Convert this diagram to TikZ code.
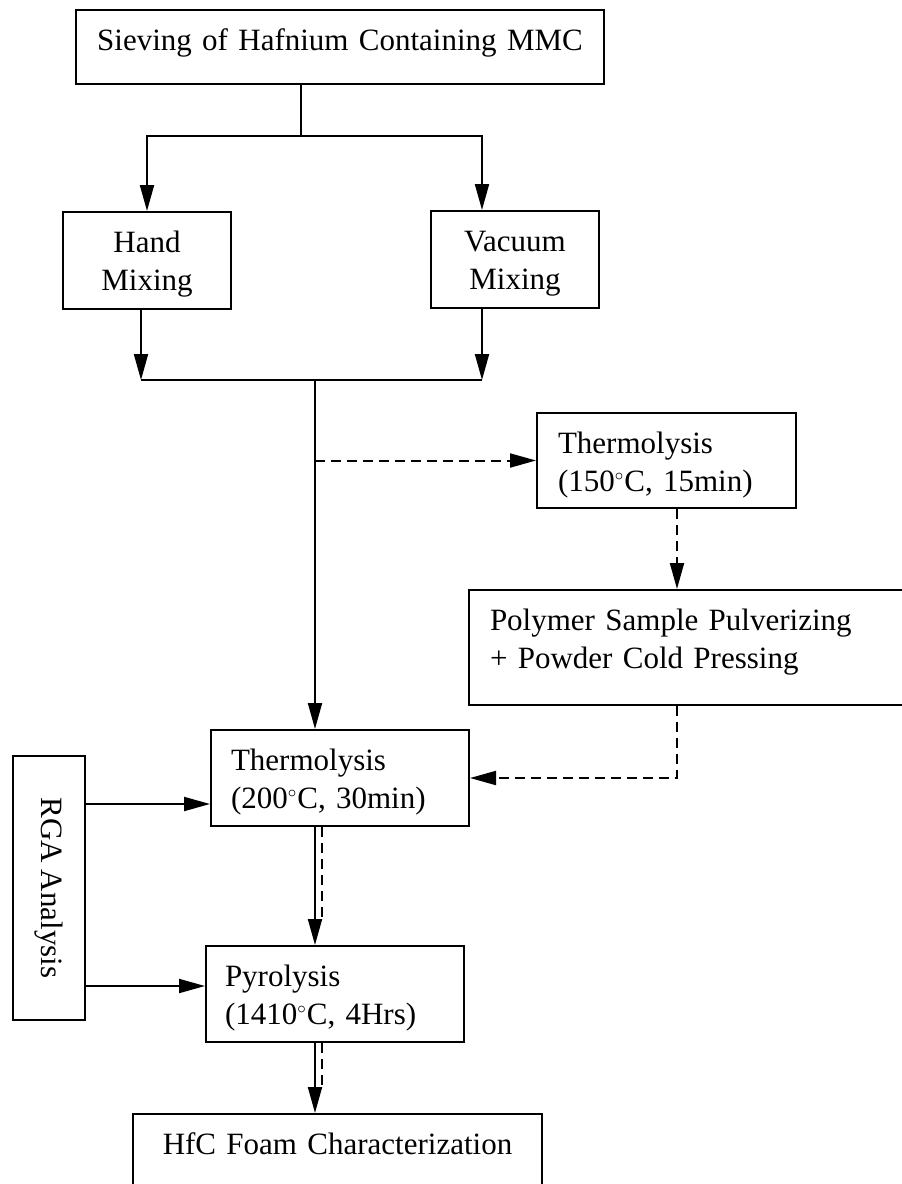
\documentclass[tikz,border=0pt]{standalone}
\usepackage{fontspec}
\setmainfont[WordSpace=0.85]{Liberation Serif}
\usetikzlibrary{arrows.meta}
\tikzset{
  stepbox/.style={draw, line width=1pt, anchor=north west, inner ysep=0pt, text height=20pt, font=\fontsize{15.5}{19}\selectfont},
  arr/.style={line width=1pt, -{Triangle[length=13pt,width=7pt]}},
  darr/.style={arr, dash pattern=on 5pt off 3pt},
  dline/.style={line width=1pt, dash pattern=on 5pt off 3pt},
}
\newcommand{\degc}{$^{\scriptscriptstyle\circ}$C}

\begin{document}
\begin{tikzpicture}[x=0.5pt,y=-0.5pt]
\useasboundingbox (0,0) rectangle (901,1184);
\node[stepbox, inner xsep=0pt, text width=264pt, align=center, text depth=17pt] (sieve) at (75,9) {Sieving of Hafnium Containing MMC};
\node[stepbox, inner xsep=0pt, text width=84pt, align=center, text depth=28.5pt] (hand) at (62,211) {Hand\\Mixing};
\node[stepbox, inner xsep=0pt, text width=84pt, align=center, text depth=28.5pt] (vacuum) at (430,210) {Vacuum\\Mixing};
\node[stepbox, inner xsep=10.5pt, text width=108.5pt, align=left, text depth=27.5pt] (therma) at (536,412) {Thermolysis\\(150\degc, 15min)};
\node[stepbox, inner xsep=10.5pt, text width=202.5pt, align=left, text depth=37.5pt] (polymer) at (468,589) {Polymer Sample Pulverizing\\+ Powder Cold Pressing};
\node[stepbox, inner xsep=10pt, text width=109pt, align=left, text depth=28pt] (thermb) at (210,729) {Thermolysis\\(200\degc, 30min)};
\node[stepbox, inner xsep=9.5pt, text width=110pt, align=left, text depth=28pt] (pyro) at (205,945) {Pyrolysis\\(1410\degc, 4Hrs)};
\node[stepbox, inner xsep=0pt, text width=204.5pt, align=center, text depth=23pt] (hfc) at (132,1113) {HfC Foam Characterization};
\node[draw, line width=1pt, rotate=-90, minimum width=132pt, minimum height=36pt, inner sep=0pt, font=\fontsize{15.5}{19}\selectfont] (rga) at (49,888) {RGA Analysis};

\coordinate (fork) at (301,136);
\coordinate (join) at (315,380);
\coordinate (hx) at (141,0);
\coordinate (vx) at (482,0);
\coordinate (px) at (677,0);
\coordinate (ya) at (0,804);
\coordinate (yb) at (0,986);

\draw[line width=1pt] (sieve.south -| fork) -- (fork);
\draw[arr] (fork) -| (hand.north);
\draw[arr] (fork) -| (vx |- vacuum.north);
\draw[arr] (hx |- hand.south) -- (hx |- join);
\draw[arr] (vx |- vacuum.south) -- (vx |- join);
\draw[line width=1pt] (hx |- join) -- (vx |- join);
\draw[arr] (join) -- (join |- thermb.north);
\draw[darr] (join |- therma.west) -- (therma.west);
\draw[darr] (px |- therma.south) -- (px |- polymer.north);
\draw[darr] (px |- polymer.south) |- (thermb.east);
\draw[arr] (rga.north |- ya) -- (thermb.west |- ya);
\draw[arr] (rga.north |- yb) -- (pyro.west |- yb);
\draw[arr] (join |- thermb.south) -- (join |- pyro.north);
\draw[dline, shorten >=14pt] ([xshift=3.5pt]join |- thermb.south) -- ([xshift=3.5pt]join |- pyro.north);
\draw[arr] (join |- pyro.south) -- (join |- hfc.north);
\draw[dline, shorten >=14pt] ([xshift=3.5pt]join |- pyro.south) -- ([xshift=3.5pt]join |- hfc.north);
\end{tikzpicture}
\end{document}
